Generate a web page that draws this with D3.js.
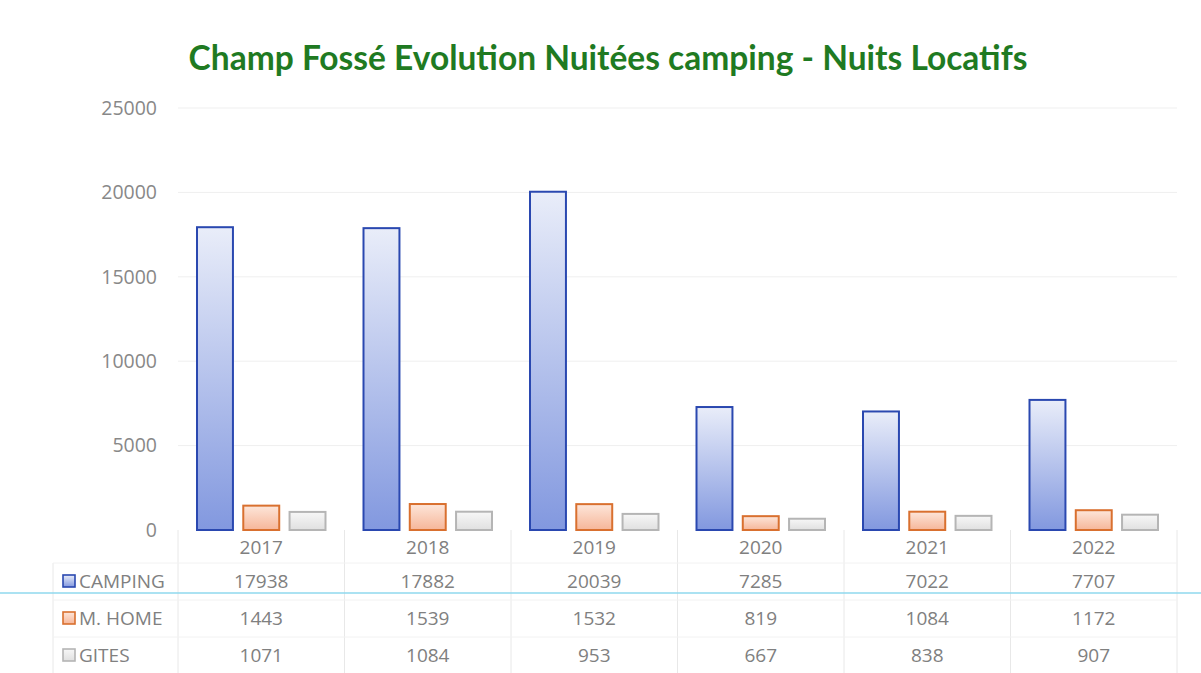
<!DOCTYPE html>
<html><head><meta charset="utf-8">
<script src="https://cdn.jsdelivr.net/npm/d3@7"></script>
<style>body{margin:0;background:#fff}svg{display:block}</style>
</head><body>
<script>
const years = ["2017","2018","2019","2020","2021","2022"];
const seriesNames = ["CAMPING","M. HOME","GITES"];
const camping = [17938,17882,20039,7285,7022,7707];
const mhome = [1443,1539,1532,819,1084,1172];
const gites = [1071,1084,953,667,838,907];
const yTicks = [0,5000,10000,15000,20000,25000];
const title = "Champ Fossé Evolution Nuitées camping - Nuits Locatifs";

const series = [
  {name: seriesNames[0], values: camping, stroke:"#2a48b0", grad:"gBlue"},
  {name: seriesNames[1], values: mhome, stroke:"#d9702f", grad:"gOrange"},
  {name: seriesNames[2], values: gites, stroke:"#b5b5b5", grad:"gGray"}
];

const W=1201,H=673;
const svg=d3.select("body").append("svg").attr("width",W).attr("height",H);
const defs=svg.append("defs");
function grad(id,c1,c2){
  const g=defs.append("linearGradient").attr("id",id).attr("x1",0).attr("y1",0).attr("x2",0).attr("y2",1);
  g.append("stop").attr("offset","0%").attr("stop-color",c1);
  g.append("stop").attr("offset","100%").attr("stop-color",c2);
}
grad("gBlue","#e9edf9","#8298df");
grad("gOrange","#fde6da","#f6b699");
grad("gGray","#f7f7f7","#e0e0e0");

const pLeft=178,pRight=1177,pTop=108,pBottom=530;
const x=d3.scaleBand().domain(years).range([pLeft,pRight]).paddingInner(0).paddingOuter(0);
const x1=d3.scaleBand().domain(seriesNames).range([18,x.bandwidth()-18]).paddingInner(0.18);
const y=d3.scaleLinear().domain([0,25000]).range([pBottom,pTop]);

svg.append("text").attr("x",608).attr("y",70).attr("text-anchor","middle")
  .attr("font-family","Lato, 'Open Sans', sans-serif").attr("font-weight","bold")
  .attr("font-size",33.5).attr("fill","#1f7a22").text(title);

// gridlines
svg.append("g").selectAll("line").data(yTicks.slice(1)).join("line")
  .attr("x1",pLeft).attr("x2",pRight).attr("y1",d=>y(d)).attr("y2",d=>y(d))
  .attr("stroke","#efefef").attr("stroke-width",1);

// y axis
const yAxis=d3.axisLeft(y).tickValues(yTicks).tickSize(0).tickPadding(0).tickFormat(d3.format("d"));
const ya=svg.append("g").attr("transform",`translate(157,0)`).call(yAxis);
ya.select(".domain").remove();
ya.selectAll("text").attr("font-family","'Open Sans', 'Noto Sans', sans-serif").attr("font-size",19.5).attr("fill","#888");

// bars
const g=svg.append("g");
series.forEach(s=>{
  g.append("g").selectAll("rect").data(years.map((yr,i)=>({yr,v:s.values[i]}))).join("rect")
    .attr("x",d=>x(d.yr)+x1(s.name)+1).attr("width",x1.bandwidth()-2)
    .attr("y",d=>y(d.v)).attr("height",d=>pBottom-y(d.v))
    .attr("fill",`url(#${s.grad})`).attr("stroke",s.stroke).attr("stroke-width",2);
});

// data table
const rowY=[547,581,618,655];
const tbl=svg.append("g");
const vlines=[pLeft].concat(years.map(yr=>x(yr)+x.bandwidth()));
tbl.selectAll("line.v").data(vlines).join("line").attr("class","v")
  .attr("x1",d=>d).attr("x2",d=>d).attr("y1",pBottom).attr("y2",H)
  .attr("stroke","#e8e8e8");
tbl.append("line").attr("x1",53).attr("x2",53).attr("y1",563).attr("y2",H).attr("stroke","#e8e8e8");
[563,600,637].forEach(yy=>{
  tbl.append("line").attr("x1",53).attr("x2",pRight).attr("y1",yy).attr("y2",yy).attr("stroke","#f2f2f2");
});
const fontT="'Open Sans', 'Noto Sans', sans-serif";
tbl.selectAll("text.yr").data(years).join("text").attr("class","yr")
  .attr("x",d=>x(d)+x.bandwidth()/2).attr("y",rowY[0]).attr("dy","0.35em")
  .attr("text-anchor","middle").attr("font-family",fontT).attr("font-size",19).attr("fill","#808080").text(d=>d);
series.forEach((s,si)=>{
  const ry=rowY[si+1];
  tbl.append("g").selectAll("text").data(s.values).join("text")
    .attr("x",(d,i)=>x(years[i])+x.bandwidth()/2).attr("y",ry).attr("dy","0.35em")
    .attr("text-anchor","middle").attr("font-family",fontT).attr("font-size",19).attr("fill","#808080").text(d=>d);
  tbl.append("rect").attr("x",63).attr("y",ry-6).attr("width",12).attr("height",12)
    .attr("fill",`url(#${s.grad})`).attr("stroke",s.stroke).attr("stroke-width",1.6);
  tbl.append("text").attr("x",79).attr("y",ry).attr("dy","0.35em").attr("font-family",fontT)
    .attr("font-size",19).attr("fill","#808080").text(s.name);
});

// scan artifact line
svg.append("line").attr("x1",0).attr("x2",W).attr("y1",593).attr("y2",593).attr("stroke","#8fd8ee").attr("stroke-width",1.5);
</script>
</body></html>
